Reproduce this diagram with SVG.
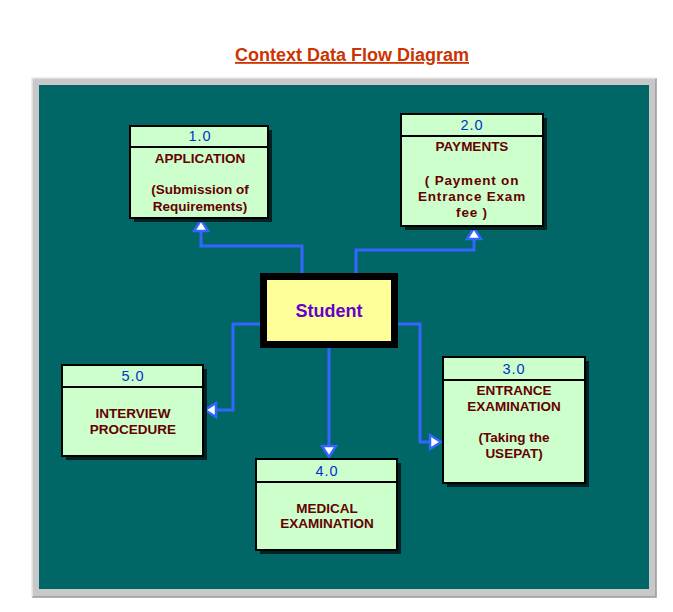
<svg xmlns="http://www.w3.org/2000/svg" width="673" height="612" viewBox="0 0 673 612">
<style>
.box{fill:#ccffcc;stroke:#000;stroke-width:2}
.sh{fill:#002222}
.hd{stroke:#000;stroke-width:2}
.num{font-family:"Liberation Sans",Arial,sans-serif;font-size:14.5px;fill:#0033cc;text-anchor:middle;letter-spacing:1px}
.lbl{font-family:"Liberation Sans",Arial,sans-serif;font-size:13.5px;font-weight:bold;fill:#660000;text-anchor:middle}
.sp{letter-spacing:0.8px}
.ln{fill:none;stroke:#3366ff;stroke-width:3}
.ah{fill:#ffffff;stroke:#3366ff;stroke-width:2.5;stroke-linejoin:miter}
</style>
<rect width="673" height="612" fill="#ffffff"/>
<text x="352" y="61" font-family="Liberation Sans,Arial,sans-serif" font-size="18" font-weight="bold" fill="#cc3300" text-anchor="middle" text-decoration="underline">Context Data Flow Diagram</text>
<g id="frame">
<rect x="32" y="78" width="624" height="519" fill="#c8c8c8"/>
<path d="M32,597 H656 V78" fill="none" stroke="#999" stroke-width="1.5"/>
<path d="M32,597 V78 H656" fill="none" stroke="#e8e8e8" stroke-width="1.5"/>
<rect x="39" y="85" width="610" height="504" fill="#006666"/>
</g>
<g id="connectors">
<path class="ln" d="M302,273 V246 H201 V230"/>
<polygon class="ah" points="201,220 194,231 208,231"/>
<path class="ln" d="M356,273 V250 H474 V238"/>
<polygon class="ah" points="474,228 467,239 481,239"/>
<path class="ln" d="M260,324 H233 V410 H215"/>
<polygon class="ah" points="205,410 216,403 216,417"/>
<path class="ln" d="M329,348 V447"/>
<polygon class="ah" points="329,457 322,446 336,446"/>
<path class="ln" d="M398,324 H420 V442 H431"/>
<polygon class="ah" points="441,442 430,435 430,449"/>
</g>
<g id="n1">
<rect class="sh" x="134" y="130" width="138" height="92"/>
<rect class="box" x="130" y="126" width="138" height="92"/>
<line class="hd" x1="130" y1="147" x2="268" y2="147"/>
<text class="num" x="200" y="141">1.0</text>
<text class="lbl" x="200" y="163">APPLICATION</text>
<text class="lbl" x="200" y="194">(Submission of</text>
<text class="lbl" x="200" y="211">Requirements)</text>
</g>
<g id="n2">
<rect class="sh" x="405" y="118" width="142" height="112"/>
<rect class="box" x="401" y="114" width="142" height="112"/>
<line class="hd" x1="401" y1="136" x2="543" y2="136"/>
<text class="num" x="472" y="130">2.0</text>
<text class="lbl" x="472" y="151">PAYMENTS</text>
<text class="lbl sp" x="472" y="185">( Payment on</text>
<text class="lbl sp" x="472" y="201">Entrance Exam</text>
<text class="lbl sp" x="472" y="217">fee )</text>
</g>
<g id="student">
<rect x="260" y="273" width="138" height="75" fill="#000"/>
<rect x="267" y="280" width="124" height="61" fill="#ffff99"/>
<text x="329" y="317" font-family="Liberation Sans,Arial,sans-serif" font-size="18" font-weight="bold" fill="#6600cc" text-anchor="middle">Student</text>
</g>
<g id="n5">
<rect class="sh" x="66" y="369" width="141" height="91"/>
<rect class="box" x="62" y="365" width="141" height="91"/>
<line class="hd" x1="62" y1="387" x2="203" y2="387"/>
<text class="num" x="133" y="381">5.0</text>
<text class="lbl" x="133" y="418">INTERVIEW</text>
<text class="lbl" x="133" y="434">PROCEDURE</text>
</g>
<g id="n4">
<rect class="sh" x="260" y="463" width="141" height="91"/>
<rect class="box" x="256" y="459" width="141" height="91"/>
<line class="hd" x1="256" y1="482" x2="397" y2="482"/>
<text class="num" x="327" y="476">4.0</text>
<text class="lbl" x="327" y="513">MEDICAL</text>
<text class="lbl" x="327" y="528">EXAMINATION</text>
</g>
<g id="n3">
<rect class="sh" x="447" y="361" width="142" height="126"/>
<rect class="box" x="443" y="357" width="142" height="126"/>
<line class="hd" x1="443" y1="380" x2="585" y2="380"/>
<text class="num" x="514" y="374">3.0</text>
<text class="lbl" x="514" y="395">ENTRANCE</text>
<text class="lbl" x="514" y="411">EXAMINATION</text>
<text class="lbl" x="514" y="442">(Taking the</text>
<text class="lbl" x="514" y="458">USEPAT)</text>
</g>
</svg>
